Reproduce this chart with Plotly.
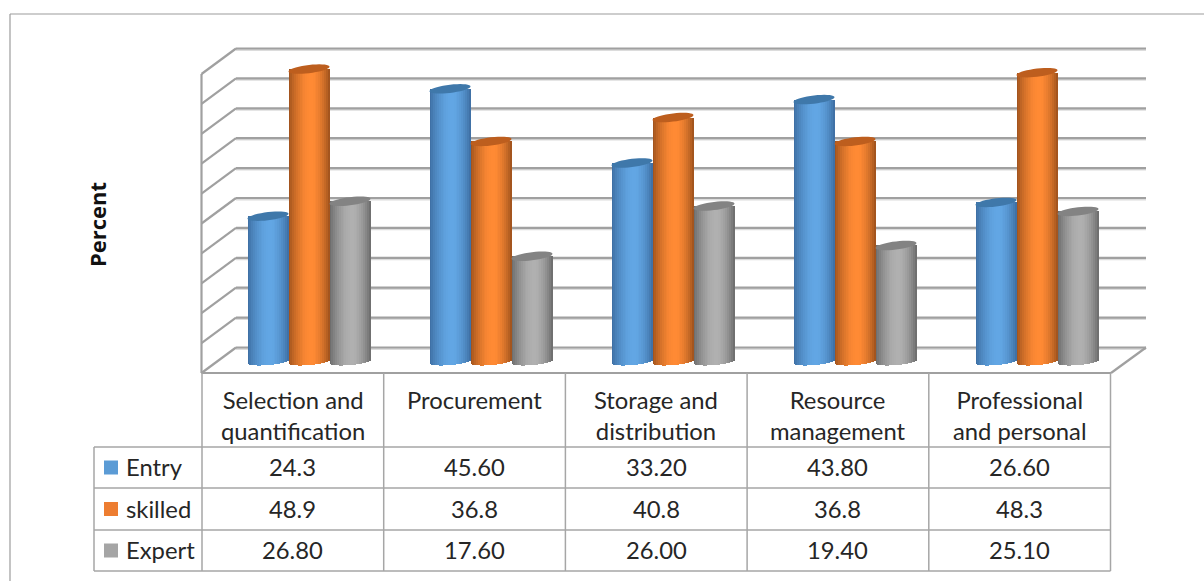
import math
import plotly.graph_objects as go

categories = ["Selection and<br>quantification", "Procurement", "Storage and<br>distribution",
              "Resource<br>management", "Professional<br>and personal"]
series_names = ["Entry", "skilled", "Expert"]
entry = [24.3, 45.60, 33.20, 43.80, 26.60]
skilled = [48.9, 36.8, 40.8, 36.8, 48.3]
expert = [26.80, 17.60, 26.00, 19.40, 25.10]
entry_labels = ["24.3", "45.60", "33.20", "43.80", "26.60"]
skilled_labels = ["48.9", "36.8", "40.8", "36.8", "48.3"]
expert_labels = ["26.80", "17.60", "26.00", "19.40", "25.10"]
wall_ticks = [0, 5, 10, 15, 20, 25, 30, 35, 40, 45, 50]

W, H = 1204, 581
GROUP_X0, GROUP_STEP = 309.0, 182.0
BASE_Y, PX_PER_UNIT = 361.5, 5.98
BAR_PX = 41.0
BACK_Y0 = 347.5
FRONT_DY = 25.5
GRID = "#a0a0a0"
LINE = "#a6a6a6"
TEXT = "#262626"
FONT = "Lato"

series = [
    (entry, entry_labels, (-41.0), (60, 108, 160), (98, 166, 228), "#3f78aa", "#5B9BD5", 467),
    (skilled, skilled_labels, (0.0), (155, 80, 28), (255, 138, 52), "#bd5e1e", "#ED7D31", 508.5),
    (expert, expert_labels, (41.0), (105, 105, 105), (176, 176, 176), "#838383", "#A5A5A5", 550),
]

fig = go.Figure()
fig.add_trace(go.Scatter(x=[0, W], y=[0, H], mode="markers", marker=dict(opacity=0),
                         hoverinfo="skip", showlegend=False, xaxis="x", yaxis="y"))


def shade(dark, light, t):
    u = (t + 1) / 2
    if u < 0.55:
        f = 1 - ((0.55 - u) / 0.55) ** 1.9
    else:
        f = 1 - ((u - 0.55) / 0.45) ** 1.9
    return "rgb(%d,%d,%d)" % tuple(round(d + (l - d) * f) for d, l in zip(dark, light))


STRIPS = 22
A_PX, B_PX, TILT_PX = BAR_PX / 2, 4.1, 2.4
shapes = []
idx = list(range(len(categories)))
for values, _, off_px, dark, light, top_col, _, _ in series:
    for s in range(STRIPS):
        t = -1 + (2 * s + 1) / STRIPS
        left_px = off_px - A_PX + s * BAR_PX / STRIPS
        base_val = (-3.6 * math.sqrt(max(0, 1 - t * t)) + 1.8 * t) / PX_PER_UNIT
        fig.add_trace(go.Bar(
            x=idx, y=[v - base_val for v in values], base=base_val,
            offset=left_px / GROUP_STEP, width=(BAR_PX / STRIPS + 0.6) / GROUP_STEP,
            marker=dict(color=shade(dark, light, t), line=dict(width=0)),
            hoverinfo="skip", showlegend=False, xaxis="x2", yaxis="y2"))
    for i, v in zip(idx, values):
        cx = i + off_px / GROUP_STEP
        pts = []
        for k in range(36):
            th = 2 * math.pi * k / 36
            px = cx + A_PX * math.cos(th) / GROUP_STEP
            py = v + (B_PX * math.sin(th) + TILT_PX * math.cos(th)) / PX_PER_UNIT
            pts.append(f"{px:.5f},{py:.4f}")
        shapes.append(dict(type="path", path="M" + " L".join(pts) + " Z", xref="x2", yref="y2",
                           fillcolor=top_col, line=dict(width=0), layer="above"))


def line(x0, y0, x1, y1, color=LINE, width=1.5, layer="below"):
    shapes.append(dict(type="line", xref="x", yref="y", x0=x0, y0=y0, x1=x1, y1=y1,
                       line=dict(color=color, width=width), layer=layer))


line(10, 14, W, 14, "#9c9c9c", 1.2)
line(10, 14, 10, H, "#9c9c9c", 1.2)

for tv in wall_ticks:
    y = BACK_Y0 - tv * PX_PER_UNIT
    line(236, y + 1.4, 1146, y + 1.4, "#dcdcdc", 2)
    line(236, y, 1146, y, GRID, 2.2)
    line(201.5, y + FRONT_DY, 236, y, GRID, 2.2)
line(201.5, BACK_Y0 - wall_ticks[-1] * PX_PER_UNIT + FRONT_DY, 201.5, BACK_Y0 + FRONT_DY, GRID, 2.2)
line(201.5, BACK_Y0 + FRONT_DY, 1111, BACK_Y0 + FRONT_DY, GRID, 2.2)
line(1111, BACK_Y0 + FRONT_DY, 1146, BACK_Y0, GRID, 2.2)

col_x = [202 + 181.7 * i for i in range(len(categories) + 1)]
row_y = [447, 488, 530, 571]
for x in col_x:
    line(x, 373, x, row_y[-1])
line(94, row_y[0], 94, row_y[-1])
for y in row_y:
    line(94, y, col_x[-1], y)

ann = []


def txt(x, y, s, size=23.8, anchor="center", yanchor="middle", **kw):
    ann.append(dict(x=x, y=y, xref="x", yref="y", text=s, showarrow=False, xanchor=anchor,
                    yanchor=yanchor, font=dict(family=FONT, size=size, color=TEXT), **kw))


for i, c in enumerate(categories):
    txt(col_x[i] + 181.7 / 2, 384, c, yanchor="top")
for (values, labels, _, _, _, _, swatch, y), name in zip(series, series_names):
    shapes.append(dict(type="rect", xref="x", yref="y", x0=104, x1=118, y0=y - 6.5, y1=y + 7.5,
                       fillcolor=swatch, line=dict(width=0), layer="below"))
    txt(124, y, name, anchor="left")
    for i, lab in enumerate(labels):
        txt(col_x[i] + 181.7 / 2, y, lab)
ann.append(dict(x=97, y=225, xref="x", yref="y", text="<b>Percent</b>", showarrow=False, textangle=-90,
                font=dict(family="Open Sans", size=22, color="#111111")))

fig.update_layout(
    width=W, height=H, margin=dict(l=0, r=0, t=0, b=0), paper_bgcolor="white", plot_bgcolor="white",
    barmode="overlay", bargap=0, shapes=shapes, annotations=ann, showlegend=False,
    xaxis=dict(domain=[0, 1], range=[0, W], visible=False, fixedrange=True),
    yaxis=dict(domain=[0, 1], range=[H, 0], visible=False, fixedrange=True),
    xaxis2=dict(overlaying="x", range=[-GROUP_X0 / GROUP_STEP, (W - GROUP_X0) / GROUP_STEP],
                visible=False, fixedrange=True),
    yaxis2=dict(overlaying="y", range=[(BASE_Y - H) / PX_PER_UNIT, BASE_Y / PX_PER_UNIT],
                visible=False, fixedrange=True),
)
fig.write_html("out.html", config={"displayModeBar": False},
               post_script="document.body.style.margin='0';document.documentElement.style.overflow='hidden';")
